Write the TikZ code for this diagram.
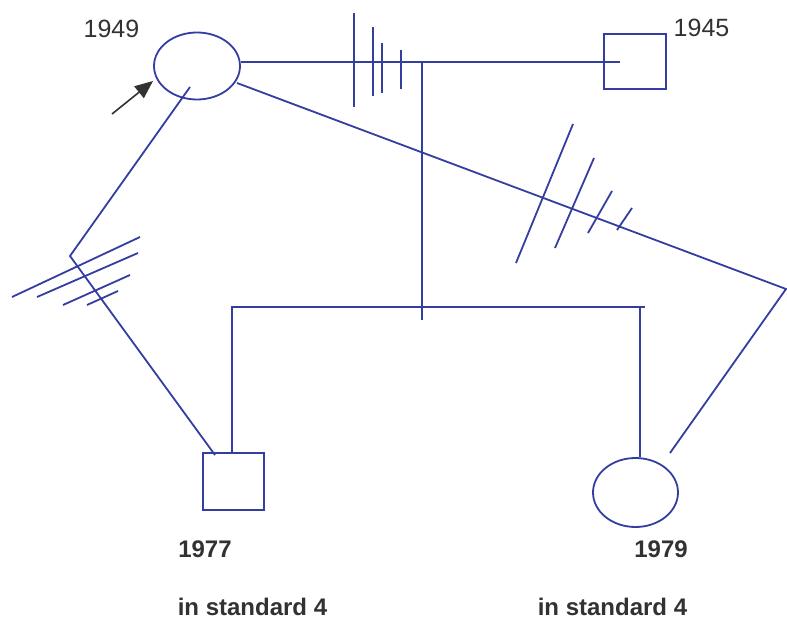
\documentclass[tikz,border=0pt]{standalone}
\usepackage{fontspec}
\setmainfont{Liberation Sans}
\usetikzlibrary{arrows.meta,shapes.geometric}
\definecolor{pblue}{RGB}{52,62,160}
\definecolor{ptext}{RGB}{50,50,50}
\tikzset{
  ln/.style={draw=pblue,line width=1.8pt},
  fem/.style={ellipse,draw=pblue,line width=1.8pt,inner sep=0pt},
  mal/.style={rectangle,draw=pblue,line width=1.8pt,inner sep=0pt},
  yr/.style={text=ptext,font=\fontsize{25}{28}\selectfont,anchor=base,inner sep=0pt},
  byr/.style={text=ptext,font=\fontsize{24}{27}\selectfont\bfseries,anchor=base,inner sep=0pt},
}
\begin{document}
\begin{tikzpicture}[x=1pt,y=-1pt]
\useasboundingbox[fill=white] (0,0) rectangle (787,621);
% persons
\node[fem,minimum width=86pt,minimum height=67pt] (m) at (197,66) {};
\node[mal,minimum width=62pt,minimum height=55pt] (f) at (635,61.5) {};
\node[mal,minimum width=61pt,minimum height=57pt] (s) at (233.5,481.5) {};
\node[fem,minimum width=85pt,minimum height=69pt] (d) at (635.5,492.5) {};
% labels
\node[yr] (t1949) at (111.5,37) {1949};
\node[yr] (t1945) at (701.5,36) {1945};
\node[byr] (t1977) at (205,557) {1977};
\node[byr] (t1979) at (661,557) {1979};
\node[byr] (st1) at (252.5,615) {in standard 4};
\node[byr] (st2) at (612.5,615) {in standard 4};
% coordinates
\coordinate (fin) at (620,62);
\coordinate (mv) at (422,62);
\coordinate (mvb) at (422,320);
\coordinate (sl) at (231,307);
\coordinate (sr) at (645,307);
\coordinate (sc) at (232,307);
\coordinate (dc) at (640,307);
\coordinate (d1) at (237,83);
\coordinate (d2) at (786,289);
\coordinate (d3) at (670,453);
\coordinate (l1) at (190,87);
\coordinate (l2) at (70,256);
\coordinate (l3) at (215,455);
\coordinate (ar0) at (112,114);
\coordinate (ar1) at (153,81);
% marriage line
\draw[ln] ([yshift=4pt]m.east) -- (fin);
\draw[ln] (mv) -- (mvb);
\draw[ln] (sl) -- (sr);
\draw[ln] (sc) -- (sc |- s.north);
\draw[ln] (dc) -- (dc |- d.north);
% other relationships
\draw[ln] (d1) -- (d2) -- (d3);
\draw[ln] (l1) -- (l2) -- (l3);
% ticks on marriage line
\draw[ln] (354,13) -- (354,107);
\draw[ln] (373,27) -- (373,96);
\draw[ln] (382,43) -- (382,93);
\draw[ln] (401,50) -- (401,89);
% ticks on diagonal
\draw[ln] (573,124) -- (516,263);
\draw[ln] (594,158) -- (555,248);
\draw[ln] (612,191) -- (588,233);
\draw[ln] (632,208) -- (617,230);
% ticks on left line
\draw[ln] (12,297) -- (140,237);
\draw[ln] (37,297) -- (138,253);
\draw[ln] (63,305) -- (130,275);
\draw[ln] (87,305) -- (118,291);
% index arrow
\draw[draw=ptext,fill=ptext,line width=1.6pt,-{Triangle[length=18pt,width=15pt]}] (ar0) -- (ar1);
\end{tikzpicture}
\end{document}
